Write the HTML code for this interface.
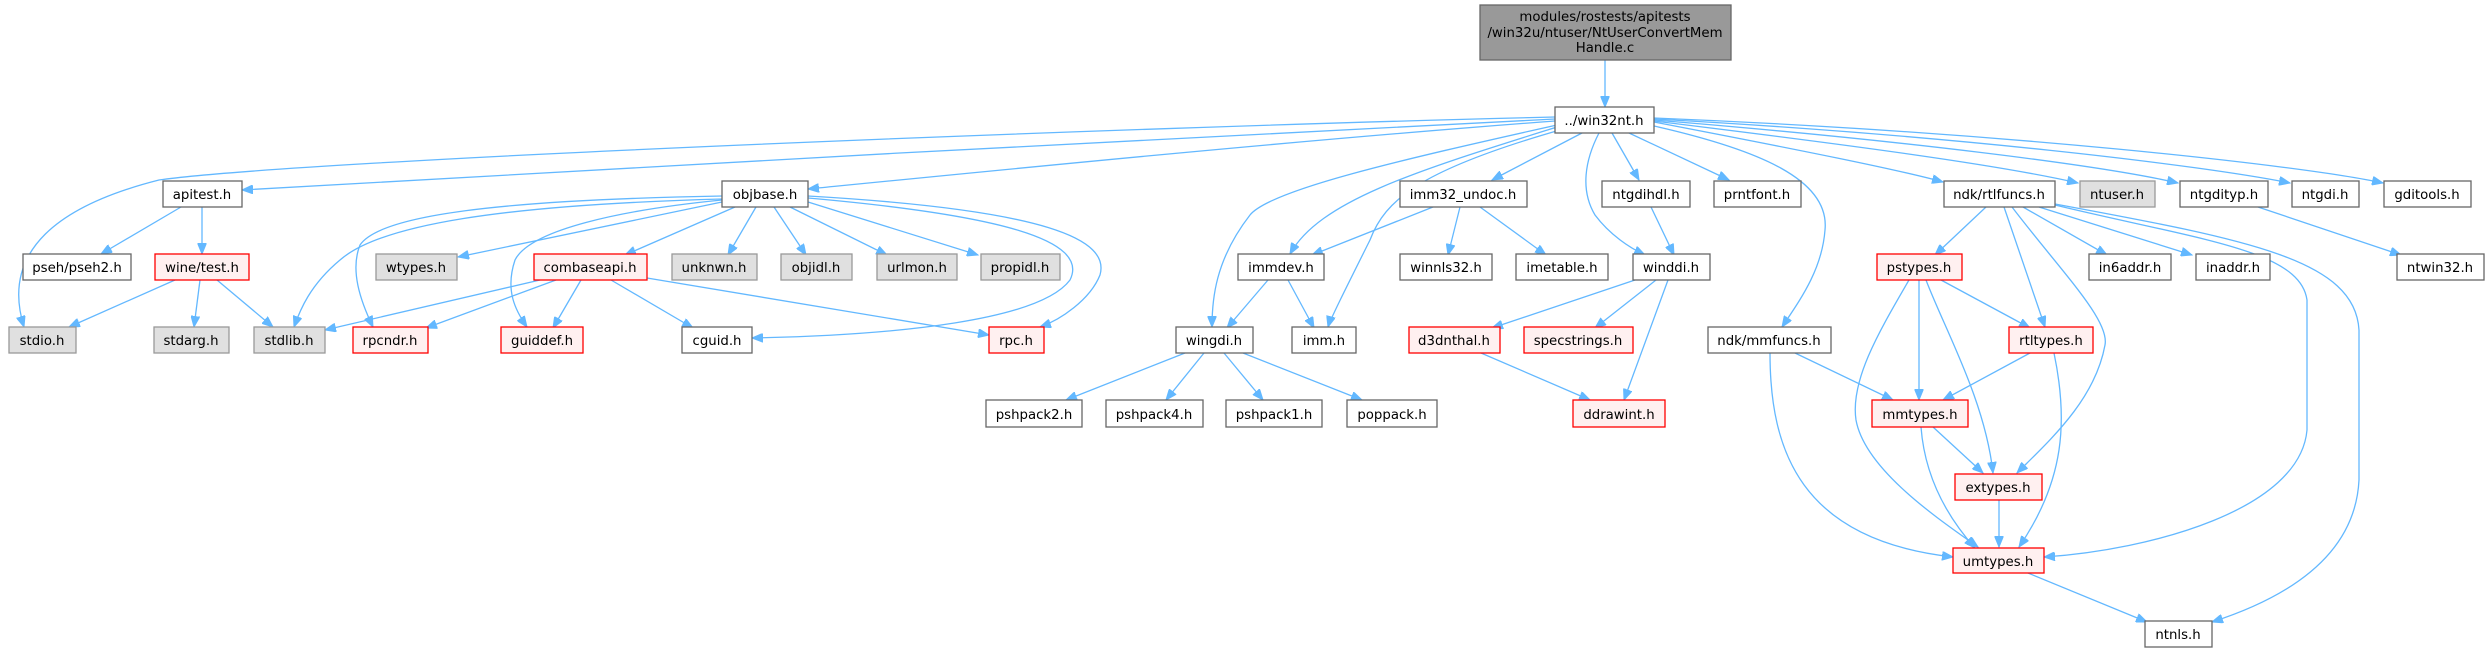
<!DOCTYPE html>
<html><head><meta charset="utf-8"><style>
html,body{margin:0;padding:0;background:#fff;}
svg{display:block;}
text{font-family:"DejaVu Sans","Liberation Sans",sans-serif;font-size:13.3px;fill:#000;text-anchor:middle;}
.w{fill:#fff;stroke:#666;stroke-width:1.3}
.g{fill:#e0e0e0;stroke:#999;stroke-width:1.3}
.r{fill:#fff0f0;stroke:#f00;stroke-width:1.3}
.t{fill:#999;stroke:#666;stroke-width:1.3}
path.e{fill:none;stroke:#63b8ff;stroke-width:1.3;marker-end:url(#a)}
</style></head><body>
<svg width="2486" height="652" viewBox="0 0 2486 652" xmlns="http://www.w3.org/2000/svg">
<defs><marker id="a" markerUnits="userSpaceOnUse" markerWidth="12" markerHeight="9" refX="11" refY="4.5" orient="auto"><path d="M0,0 L11,4.5 L0,9 z" fill="#63b8ff" stroke="#63b8ff"/></marker></defs>

<!-- edges -->
<path class="e" d="M1605,60 L1605,107"/>
<path class="e" d="M1555,117 C1100,128 300,160 159,180 C60,205 0,250 24,327"/>
<path class="e" d="M1555,119 C1200,135 600,170 242,190"/>
<path class="e" d="M1555,121 C1300,140 1000,170 808,189"/>
<path class="e" d="M1557,125 C1400,160 1270,190 1250,215 C1215,260 1212,300 1212,327"/>
<path class="e" d="M1557,127 C1420,170 1320,200 1290,254"/>
<path class="e" d="M1560,130 C1420,170 1385,200 1370,240 C1345,290 1330,320 1328,327"/>
<path class="e" d="M1582,133 L1492,180"/>
<path class="e" d="M1599,133 C1585,160 1580,190 1595,215 C1610,235 1630,248 1645,255"/>
<path class="e" d="M1612,133 L1639,180"/>
<path class="e" d="M1629,133 L1729,180"/>
<path class="e" d="M1654,126 C1760,150 1830,180 1825,230 C1822,270 1800,300 1782,327"/>
<path class="e" d="M1654,122 C1800,150 1900,170 1943,182"/>
<path class="e" d="M1654,121 C1850,145 2000,165 2078,183"/>
<path class="e" d="M1654,120 C1900,140 2100,165 2178,183"/>
<path class="e" d="M1654,119 C1950,135 2200,165 2290,183"/>
<path class="e" d="M1654,118 C2000,132 2300,165 2383,183"/>

<path class="e" d="M181,207 L101,254"/>
<path class="e" d="M202,207 L202,254"/>
<path class="e" d="M175,280 L69,327"/>
<path class="e" d="M200,280 L194,327"/>
<path class="e" d="M217,280 L273,327"/>

<path class="e" d="M722,199 C500,205 380,225 340,260 C310,285 300,310 294,327"/>
<path class="e" d="M722,196 C500,200 380,215 360,245 C350,270 360,300 373,327"/>
<path class="e" d="M722,202 L458,257"/>
<path class="e" d="M735,207 L625,255"/>
<path class="e" d="M722,200 C620,210 530,230 515,260 C505,290 515,310 527,327"/>
<path class="e" d="M756,207 L728,255"/>
<path class="e" d="M774,207 L806,255"/>
<path class="e" d="M790,207 L887,255"/>
<path class="e" d="M808,202 L978,255"/>
<path class="e" d="M808,198 C1000,215 1090,240 1070,280 C1040,320 900,335 752,338"/>
<path class="e" d="M808,196 C1050,210 1110,240 1100,275 C1090,300 1060,320 1040,327"/>

<path class="e" d="M540,280 L325,330"/>
<path class="e" d="M556,280 L426,328"/>
<path class="e" d="M581,280 L553,328"/>
<path class="e" d="M611,280 L693,328"/>
<path class="e" d="M647,278 L989,335"/>

<path class="e" d="M1433,207 L1312,255"/>
<path class="e" d="M1460,207 L1448,255"/>
<path class="e" d="M1480,207 L1546,255"/>
<path class="e" d="M1268,280 L1227,328"/>
<path class="e" d="M1288,280 L1314,328"/>
<path class="e" d="M1651,207 L1674,255"/>
<path class="e" d="M1635,280 L1492,328"/>
<path class="e" d="M1656,280 L1595,328"/>
<path class="e" d="M1668,280 L1624,400"/>
<path class="e" d="M1481,353 L1590,400"/>

<path class="e" d="M1185,353 L1066,400"/>
<path class="e" d="M1204,353 L1166,400"/>
<path class="e" d="M1224,353 L1263,400"/>
<path class="e" d="M1243,353 L1362,400"/>

<path class="e" d="M2258,207 L2401,255"/>

<path class="e" d="M1986,207 L1935,255"/>
<path class="e" d="M2004,207 L2045,327"/>
<path class="e" d="M2012,207 C2060,270 2110,320 2105,345 C2095,400 2050,440 2017,473"/>
<path class="e" d="M2023,207 L2107,255"/>
<path class="e" d="M2039,207 L2192,255"/>
<path class="e" d="M2055,205 C2200,240 2300,250 2307,300 L2307,430 C2300,510 2150,550 2044,557"/>
<path class="e" d="M2055,204 C2250,240 2355,260 2359,330 L2359,480 C2355,560 2280,600 2212,622"/>

<path class="e" d="M1941,280 L2030,328"/>
<path class="e" d="M1919,280 L1919,400"/>
<path class="e" d="M1926,280 C1945,330 1985,400 1993,473"/>
<path class="e" d="M1909,280 C1880,330 1850,380 1856,420 C1865,470 1940,520 1978,547"/>
<path class="e" d="M2030,353 L1943,400"/>
<path class="e" d="M2054,353 C2068,420 2065,480 2019,547"/>
<path class="e" d="M1795,353 L1893,400"/>
<path class="e" d="M1770,353 C1770,450 1800,540 1953,557"/>
<path class="e" d="M1933,427 L1983,473"/>
<path class="e" d="M1921,427 C1925,480 1950,520 1975,548"/>
<path class="e" d="M1999,500 L1999,547"/>
<path class="e" d="M2028,573 L2147,622"/>

<!-- nodes -->
<rect class="t" x="1480" y="5" width="251" height="55"/>
<text x="1605" y="21">modules/rostests/apitests</text>
<text x="1605" y="37">/win32u/ntuser/NtUserConvertMem</text>
<text x="1605" y="52">Handle.c</text>

<rect class="w" x="1555" y="107" width="99" height="26"/><text x="1604" y="125">../win32nt.h</text>

<rect class="w" x="163" y="181" width="79" height="26"/><text x="202" y="199">apitest.h</text>
<rect class="w" x="722" y="181" width="86" height="26"/><text x="765" y="199">objbase.h</text>
<rect class="w" x="1400" y="181" width="127" height="26"/><text x="1463" y="199">imm32_undoc.h</text>
<rect class="w" x="1602" y="181" width="88" height="26"/><text x="1646" y="199">ntgdihdl.h</text>
<rect class="w" x="1714" y="181" width="87" height="26"/><text x="1757" y="199">prntfont.h</text>
<rect class="w" x="1944" y="181" width="111" height="26"/><text x="1999" y="199">ndk/rtlfuncs.h</text>
<rect class="g" x="2080" y="181" width="75" height="26"/><text x="2117" y="199">ntuser.h</text>
<rect class="w" x="2180" y="181" width="88" height="26"/><text x="2224" y="199">ntgdityp.h</text>
<rect class="w" x="2292" y="181" width="67" height="26"/><text x="2325" y="199">ntgdi.h</text>
<rect class="w" x="2384" y="181" width="87" height="26"/><text x="2427" y="199">gditools.h</text>

<rect class="w" x="23" y="254" width="108" height="26"/><text x="77" y="272">pseh/pseh2.h</text>
<rect class="r" x="155" y="254" width="94" height="26"/><text x="202" y="272">wine/test.h</text>
<rect class="g" x="376" y="254" width="81" height="26"/><text x="416" y="272">wtypes.h</text>
<rect class="r" x="534" y="254" width="113" height="26"/><text x="590" y="272">combaseapi.h</text>
<rect class="g" x="672" y="254" width="85" height="26"/><text x="714" y="272">unknwn.h</text>
<rect class="g" x="781" y="254" width="71" height="26"/><text x="816" y="272">objidl.h</text>
<rect class="g" x="877" y="254" width="80" height="26"/><text x="917" y="272">urlmon.h</text>
<rect class="g" x="981" y="254" width="79" height="26"/><text x="1020" y="272">propidl.h</text>
<rect class="w" x="1238" y="254" width="86" height="26"/><text x="1281" y="272">immdev.h</text>
<rect class="w" x="1400" y="254" width="92" height="26"/><text x="1446" y="272">winnls32.h</text>
<rect class="w" x="1516" y="254" width="92" height="26"/><text x="1562" y="272">imetable.h</text>
<rect class="w" x="1633" y="254" width="77" height="26"/><text x="1671" y="272">winddi.h</text>
<rect class="r" x="1877" y="254" width="85" height="26"/><text x="1919" y="272">pstypes.h</text>
<rect class="w" x="2089" y="254" width="82" height="26"/><text x="2130" y="272">in6addr.h</text>
<rect class="w" x="2196" y="254" width="74" height="26"/><text x="2233" y="272">inaddr.h</text>
<rect class="w" x="2397" y="254" width="87" height="26"/><text x="2440" y="272">ntwin32.h</text>

<rect class="g" x="9" y="327" width="67" height="26"/><text x="42" y="345">stdio.h</text>
<rect class="g" x="154" y="327" width="75" height="26"/><text x="191" y="345">stdarg.h</text>
<rect class="g" x="254" y="327" width="71" height="26"/><text x="289" y="345">stdlib.h</text>
<rect class="r" x="353" y="327" width="75" height="26"/><text x="390" y="345">rpcndr.h</text>
<rect class="r" x="501" y="327" width="82" height="26"/><text x="542" y="345">guiddef.h</text>
<rect class="w" x="682" y="327" width="70" height="26"/><text x="717" y="345">cguid.h</text>
<rect class="r" x="989" y="327" width="55" height="26"/><text x="1016" y="345">rpc.h</text>
<rect class="w" x="1176" y="327" width="77" height="26"/><text x="1214" y="345">wingdi.h</text>
<rect class="w" x="1292" y="327" width="64" height="26"/><text x="1324" y="345">imm.h</text>
<rect class="r" x="1409" y="327" width="91" height="26"/><text x="1454" y="345">d3dnthal.h</text>
<rect class="r" x="1524" y="327" width="109" height="26"/><text x="1578" y="345">specstrings.h</text>
<rect class="w" x="1708" y="327" width="123" height="26"/><text x="1769" y="345">ndk/mmfuncs.h</text>
<rect class="r" x="2009" y="327" width="84" height="26"/><text x="2051" y="345">rtltypes.h</text>

<rect class="w" x="986" y="400" width="96" height="27"/><text x="1034" y="419">pshpack2.h</text>
<rect class="w" x="1106" y="400" width="97" height="27"/><text x="1154" y="419">pshpack4.h</text>
<rect class="w" x="1226" y="400" width="96" height="27"/><text x="1274" y="419">pshpack1.h</text>
<rect class="w" x="1347" y="400" width="90" height="27"/><text x="1392" y="419">poppack.h</text>
<rect class="r" x="1573" y="400" width="92" height="27"/><text x="1619" y="419">ddrawint.h</text>
<rect class="r" x="1872" y="400" width="96" height="27"/><text x="1920" y="419">mmtypes.h</text>

<rect class="r" x="1955" y="474" width="87" height="26"/><text x="1998" y="492">extypes.h</text>
<rect class="r" x="1953" y="548" width="91" height="25"/><text x="1998" y="566">umtypes.h</text>
<rect class="w" x="2145" y="621" width="67" height="26"/><text x="2178" y="639">ntnls.h</text>
</svg>
</body></html>
